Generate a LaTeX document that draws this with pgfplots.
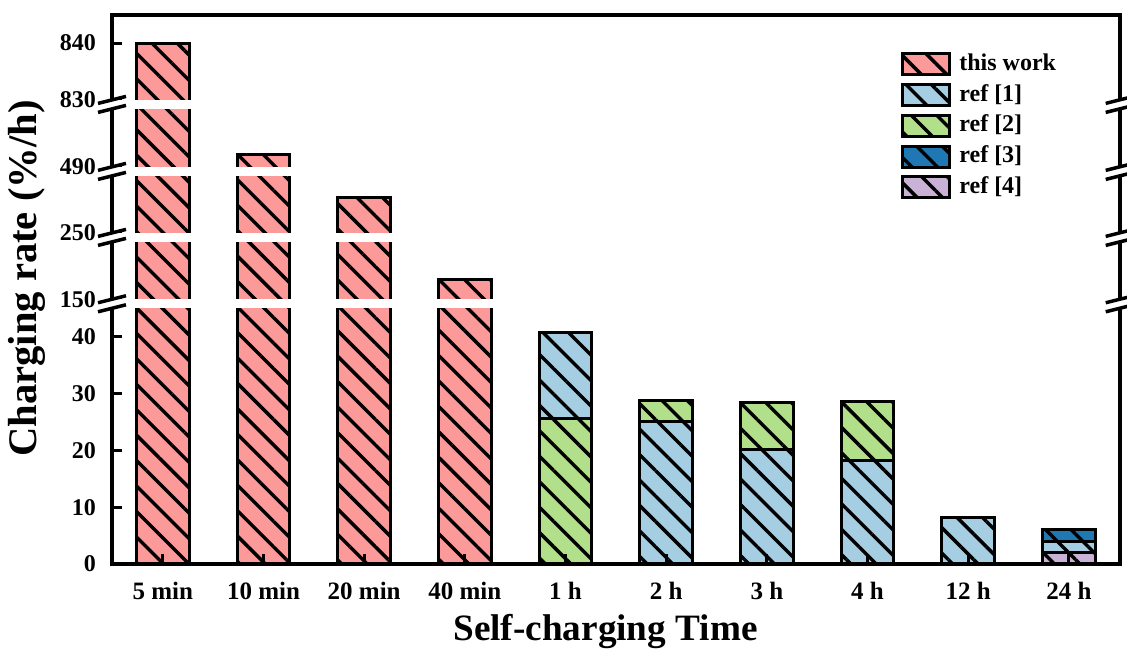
\documentclass[border=0pt]{standalone}
\usepackage{fontspec}
\setmainfont{Liberation Serif}
\usepackage{pgfplots}
\pgfplotsset{compat=1.18}
\usetikzlibrary{patterns.meta}
\definecolor{cpink}{HTML}{FB9A99}
\definecolor{cblue}{HTML}{A6CEE3}
\definecolor{cgreen}{HTML}{B2DF8A}
\definecolor{cdblue}{HTML}{1F78B4}
\definecolor{cpurple}{HTML}{CAB2D6}
\pgfplotsset{
  hb/.style={ybar, bar width=26.3pt, bar shift=0pt, draw=black, line width=1.5pt, fill=#1,
    postaction={pattern={Lines[angle=-45,distance=9pt,line width=1.7pt]}, pattern color=black}},
  lg/.style={legend image code/.code={\draw[draw=black, line width=1.5pt, fill=#1,
    postaction={pattern={Lines[angle=-45,distance=9pt,line width=1.7pt]}, pattern color=black}]
    (0pt,-5.25pt) rectangle (23.5pt,5.25pt);}},
}
\begin{document}
\begin{tikzpicture}
\useasboundingbox (-56pt,-45.5pt) rectangle (507.5pt,282pt);
\begin{axis}[
  at={(0pt,0pt)}, anchor=south west, scale only axis,
  width=503.85pt, height=274.35pt,
  xmin=-0.505, xmax=9.505, ymin=0, ymax=844.9,
  y coord trafo/.code={\pgfmathparse{#1<100 ? #1 : (#1<200 ? #1-103.36 : (#1<400 ? #1-191.67 : (#1<700 ? #1-420.04 : #1-748.24)))}},
  y coord inv trafo/.code={\pgfmathparse{#1<46 ? #1 : (#1<58 ? #1+103.36 : (#1<69.5 ? #1+191.67 : (#1<81 ? #1+420.04 : #1+748.24)))}},
  xtick={0,1,2,3,4,5,6,7,8,9},
  xticklabels={5 min,10 min,20 min,40 min,1 h,2 h,3 h,4 h,12 h,24 h},
  ytick={0,10,20,30,40,150,250,490,830,840},
  yticklabels={0,10,20,30,40,150,250,490,830,840},
  tick align=inside, xtick pos=left, ytick pos=left, major tick length=5pt,
  major tick style={line width=1.5pt, black},
  axis line style={line width=2pt, black},
  axis on top,
  tick label style={font=\bfseries\fontsize{12}{14}\selectfont},
  xticklabel style={font=\bfseries\fontsize{12.5}{14}\selectfont, yshift=-5.3pt},
  yticklabel style={xshift=-4.5pt},
  every axis x label/.style={at={(axis description cs:0.4897,0)}, anchor=base, yshift=-38pt},
  every axis y label/.style={at={(axis description cs:-0.0747,0.5203)}, rotate=90, anchor=base},
  xlabel={\bfseries\fontsize{18.6}{22}\selectfont Self-charging Time},
  ylabel={\bfseries\fontsize{20.3}{24}\selectfont Charging rate (\%/h)},
]
\addplot[hb=cpink] coordinates {(0,840) (1,492.1) (2,256.3) (3,153.4)};
\addplot[hb=cdblue] coordinates {(9,6.1)};
\addplot[hb=cgreen] coordinates {(5,28.8) (6,28.5) (7,28.7)};
\addplot[hb=cblue] coordinates {(4,40.8) (5,25.1) (6,20.1) (7,18.2) (8,8.2) (9,4.0)};
\addplot[hb=cgreen] coordinates {(4,25.7)};
\addplot[hb=cpurple] coordinates {(9,2.0)};
\coordinate (L1) at (axis cs:-0.505,45.05);  \coordinate (R1) at (axis cs:9.505,150);
\coordinate (L2) at (axis cs:-0.505,160.1);  \coordinate (R2) at (axis cs:9.505,250);
\coordinate (L3) at (axis cs:-0.505,260.04); \coordinate (R3) at (axis cs:9.505,490);
\coordinate (L4) at (axis cs:-0.505,500.21); \coordinate (R4) at (axis cs:9.505,830);
\end{axis}
\foreach \i in {1,2,3,4} {
  \fill[white] ([xshift=-4pt]L\i) rectangle ([xshift=4pt]R\i);
  \draw[line width=1.75pt] ([shift={(-7pt,-1.75pt)}]L\i) -- ([shift={(7pt,1.75pt)}]L\i);
  \draw[line width=1.75pt] ([shift={(-7pt,-1.75pt)}]L\i |- R\i) -- ([shift={(7pt,1.75pt)}]L\i |- R\i);
  \draw[line width=1.75pt] ([shift={(-7pt,-1.75pt)}]R\i |- L\i) -- ([shift={(7pt,1.75pt)}]R\i |- L\i);
  \draw[line width=1.75pt] ([shift={(-7pt,-1.75pt)}]R\i) -- ([shift={(7pt,1.75pt)}]R\i);
}
\begin{axis}[
  at={(0pt,0pt)}, anchor=south west, scale only axis,
  width=503.85pt, height=274.35pt,
  xmin=0, xmax=1, ymin=0, ymax=1, hide axis,
  legend style={at={(0.777,0.944)}, anchor=north west, draw=none, fill=none,
    font=\bfseries\fontsize{12}{14}\selectfont, row sep=1.35pt,
    nodes={inner sep=1pt, text height=9pt, text depth=3pt},
    /tikz/every odd column/.append style={column sep=3pt}},
  legend cell align=left,
]
\addlegendimage{lg=cpink}\addlegendentry{this work}
\addlegendimage{lg=cblue}\addlegendentry{ref [1]}
\addlegendimage{lg=cgreen}\addlegendentry{ref [2]}
\addlegendimage{lg=cdblue}\addlegendentry{ref [3]}
\addlegendimage{lg=cpurple}\addlegendentry{ref [4]}
\end{axis}
\end{tikzpicture}
\end{document}
